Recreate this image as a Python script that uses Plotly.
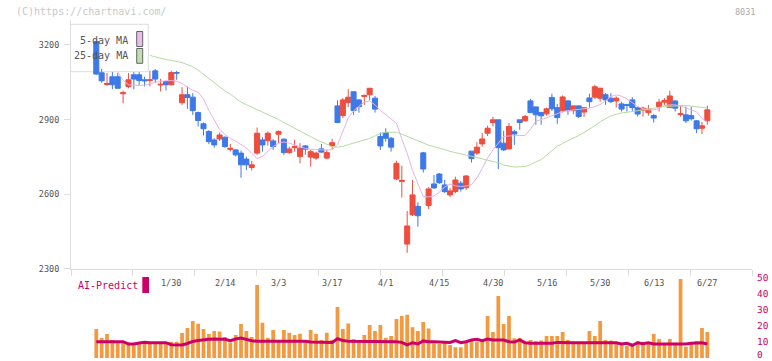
import plotly.graph_objects as go

# ---------------- data ----------------
dates = ["1/9","1/10","1/14","1/15","1/16","1/17","1/20","1/21","1/22","1/23","1/24","1/27","1/28","1/29","1/30","1/31",
         "2/3","2/4","2/5","2/6","2/7","2/10","2/12","2/13","2/14","2/17","2/18","2/19","2/20","2/21","2/25","2/26","2/27","2/28",
         "3/3","3/4","3/5","3/6","3/7","3/10","3/11","3/12","3/13","3/14","3/17","3/18","3/19","3/21","3/24","3/25","3/26","3/27","3/28","3/31",
         "4/1","4/2","4/3","4/4","4/7","4/8","4/9","4/10","4/11","4/14","4/15","4/16","4/17","4/18","4/21","4/22","4/23","4/24","4/25","4/28","4/30",
         "5/1","5/2","5/7","5/8","5/9","5/12","5/13","5/14","5/15","5/16","5/19","5/20","5/21","5/22","5/23","5/26","5/27","5/28","5/29","5/30",
         "6/2","6/3","6/4","6/5","6/6","6/9","6/10","6/11","6/12","6/13","6/16","6/17","6/18","6/19","6/20","6/23","6/24","6/25","6/26","6/27"]

open_ = [3214,3088,3041,3072,3072,3004,3033,3080,3080,3060,3057,3096,3039,3053,3040,3089,2968,3000,2990,2928,
         2883,2852,2818,2822,2829,2780,2778,2765,2741,2707,2765,2818,2815,2814,2841,2821,2767,2787,2751,2794,
         2749,2745,2782,2745,2794,2955,2916,2968,3012,2979,2993,3000,2986,2832,2848,2825,2661,2651,2399,2517,
         2551,2766,2554,2641,2681,2637,2597,2610,2644,2626,2773,2765,2802,2845,2888,2899,2805,2782,2851,2899,
         2895,2975,2951,2928,2923,2989,2948,2935,2975,2936,2955,2930,2987,2990,2986,3000,2986,2975,2963,2961,
         2979,2948,2938,2928,2916,2952,2970,2948,2975,2920,2919,2916,2895,2865,2895]
high = [3218,3104,3087,3091,3087,3017,3087,3091,3091,3072,3096,3103,3064,3055,3096,3096,3030,3033,3006,2932,
        2888,2857,2825,2848,2832,2802,2781,2775,2751,2734,2868,2829,2852,2821,2856,2825,2791,2818,2805,2798,
        2778,2771,2802,2778,2822,2977,2986,3022,3012,2982,3000,3026,2995,2848,2865,2830,2734,2714,2532,2657,
        2567,2770,2628,2677,2685,2657,2624,2670,2653,2677,2773,2809,2845,2875,2911,2899,2855,2886,2859,2899,
        2919,2983,2951,2932,2948,3004,2963,2997,2979,2957,2957,2950,3004,3040,3028,3006,3006,2993,2972,2962,
        2990,2950,2952,2959,2923,2983,2986,3016,2977,2956,2952,2952,2897,2890,2956]
low = [3080,3048,3036,3022,3023,2965,3026,3022,3040,3033,3034,3049,3013,3017,3037,3060,2959,2943,2919,2872,
       2836,2801,2787,2814,2787,2771,2751,2666,2697,2695,2758,2771,2795,2778,2805,2758,2762,2771,2724,2758,
       2711,2738,2765,2741,2782,2886,2906,2950,2919,2928,2959,2977,2928,2778,2811,2771,2657,2586,2364,2512,
       2469,2687,2540,2621,2641,2604,2588,2604,2610,2617,2727,2758,2791,2834,2872,2701,2774,2780,2798,2859,
       2892,2928,2879,2879,2916,2935,2883,2928,2919,2922,2906,2910,2948,2983,2972,2959,2966,2948,2932,2932,
       2935,2912,2912,2916,2888,2932,2959,2948,2932,2912,2886,2896,2845,2842,2879]
close = [3083,3056,3045,3040,3026,3008,3060,3063,3057,3056,3060,3063,3042,3040,3089,3087,3000,2989,2936,2896,
         2863,2811,2798,2838,2791,2784,2758,2718,2718,2718,2845,2798,2845,2791,2852,2767,2782,2791,2785,2781,
         2771,2765,2769,2767,2807,2888,2979,2990,2936,2952,2997,3026,2942,2794,2825,2789,2724,2655,2472,2597,
         2513,2701,2621,2625,2646,2610,2613,2657,2621,2673,2743,2789,2822,2865,2899,2787,2778,2872,2842,2888,
         2912,2928,2919,2915,2943,2943,2908,2991,2936,2955,2912,2948,2972,3032,3026,2979,2972,2986,2942,2957,
         2948,2922,2946,2942,2906,2970,2977,2995,2946,2924,2895,2903,2863,2875,2939]

ma5 = [None] * 4 + [
    3092,3058,3040,3037,3037,3039,3044,3051,3054,3056,3057,3054,3046,3030,3018,3010,2983,2936,2897,2861,
    2840,2824,2813,2799,2786,2764,2743,2752,2772,2791,2805,2810,2805,2797,2789,2784,2780,2778,2778,2778,
    2778,2798,2850,2907,2935,2954,2971,2975,2959,2937,2919,2903,2885,2822,2764,2695,2639,2590,2589,2592,
    2608,2629,2641,2633,2631,2632,2639,2665,2703,2746,2778,2806,2832,2834,2836,2836,2836,2861,2893,2899,
    2907,2915,2923,2932,2936,2939,2942,2944,2946,2952,2960,2975,2993,2999,2994,2983,2969,2953,2943,2939,
    2939,2945,2955,2959,2959,2955,2947,2938,2931,2905,2889]
ma25 = [None] * 10 + [
    3158,3152,3146,3141,3138,3134,3129,3121,3113,3099,3082,3066,3049,3031,3015,3002,2985,2970,2960,2950,
    2939,2930,2921,2912,2900,2888,2876,2865,2852,2842,2831,2820,2810,2800,2791,2789,2792,2799,2805,2811,
    2817,2824,2834,2844,2849,2850,2849,2841,2832,2822,2813,2804,2797,2791,2786,2779,2772,2766,2762,2757,
    2752,2748,2742,2736,2733,2727,2717,2712,2709,2710,2711,2719,2729,2739,2757,2774,2793,2804,2814,2825,
    2836,2848,2861,2875,2891,2904,2915,2921,2927,2929,2932,2935,2938,2942,2945,2949,2953,2954,2955,2956,
    2956,2954,2952,2949,2946]

volume = [18.0,12.4,14.9,11.2,10.1,10.1,8.7,8.7,9.5,10.6,
          9.5,9.5,9.5,9.5,10.1,10.1,15.5,18.6,23.0,21.3,
          18.0,14.9,16.8,16.4,13.0,9.7,14.3,21.1,16.8,13.0,
          45.3,21.9,12.4,17.4,10.1,17.4,15.7,14.3,15.1,11.2,
          17.4,14.9,11.2,15.7,11.2,31.7,18.0,21.5,11.8,10.1,
          14.3,20.5,16.8,20.5,12.6,13.7,24.2,26.1,26.9,19.1,
          16.7,22.4,18.4,9.1,8.7,9.5,8.1,6.6,6.6,9.7,
          10.6,10.1,11.8,26.1,16.1,38.5,21.1,26.1,12.2,12.4,
          9.5,11.2,10.4,10.8,13.7,13.7,13.7,16.1,11.2,10.1,
          9.1,9.5,16.8,13.7,23.0,11.2,10.8,9.1,8.1,7.5,
          7.5,10.4,8.7,9.9,14.9,11.8,8.7,11.8,9.5,49.1,
          7.0,9.5,10.6,18.6,16.1]
ai_predict = [10.1,10.1,10.1,10.1,10.1,10.1,8.7,8.7,9.3,9.7,
              9.5,9.5,9.5,9.5,8.3,8.1,8.1,9.0,10.3,10.8,
              11.4,11.6,11.8,11.8,11.6,10.7,11.8,12.4,11.6,10.7,
              10.4,10.4,10.4,10.1,10.1,10.4,10.4,10.4,10.4,10.4,
              9.9,9.9,9.9,9.9,9.7,12.0,10.8,10.4,10.4,10.4,
              10.4,10.4,10.4,10.4,10.1,10.1,10.1,9.7,8.1,9.5,
              8.7,10.6,10.1,10.1,10.1,10.1,9.7,10.8,9.5,10.1,
              11.2,11.6,10.8,11.8,11.2,11.2,11.2,10.1,9.9,11.2,
              9.5,9.1,9.1,9.1,9.1,9.1,9.7,9.5,9.5,9.5,
              9.5,9.5,9.1,9.5,9.5,9.5,9.5,9.5,8.7,9.1,
              7.9,9.5,8.9,9.5,8.7,8.7,8.7,8.7,8.7,8.3,
              8.7,9.1,9.5,9.5,8.7]

date_labels = ["1/30","2/14","3/3","3/17","4/1","4/15","4/30","5/16","5/30","6/13","6/27"]
price_ticks = [2300, 2600, 2900, 3200]
ai_ticks = [10, 20, 30, 40, 50]     # the 0 label is placed separately so it is not cut
ai_zero_label = "0"

# ---------------- styling / geometry ----------------
RED = "#EE4E3E"
BLUE = "#3E79E8"
PINK = "#E6B2E6"
GREEN = "#B3DBA0"
ORANGE = "#F39A40"
MAGENTA = "#CC0066"
AXIS = "#DDDDDD"
TXT = "#555555"
MONO = "DejaVu Sans Mono"

W, H = 772, 361
L, R, T, B = 71, 20, 20, 3
PW, PH = W - L - R, H - T - B
X0_PX, DX_PX = 96.3, 5.36          # pixel position of first candle, spacing


def px_x(px):
    return (px - L) / PW


def px_y(py):
    return (H - B - py) / PH


xs = list(range(len(dates)))
x_range = [(L - X0_PX) / DX_PX, (L + PW - X0_PX) / DX_PX]
tick_pos = [x_range[0] + k * (x_range[1] - x_range[0]) / 11 for k in range(12)]
price_bottom_py = 268.7
px_per_300 = 74.57
price_range = [2300, 2300 + (price_bottom_py - T) * 300 / px_per_300]

fig = go.Figure()
fig.add_trace(go.Candlestick(
    x=xs, open=open_, high=high, low=low, close=close,
    increasing=dict(line=dict(color=RED, width=1), fillcolor=RED),
    decreasing=dict(line=dict(color=BLUE, width=1), fillcolor=BLUE),
    whiskerwidth=0, showlegend=False, hoverinfo="skip", xaxis="x", yaxis="y"))
fig.add_trace(go.Scatter(x=xs, y=ma5, mode="lines", line=dict(color=PINK, width=1),
                         showlegend=False, hoverinfo="skip", xaxis="x", yaxis="y"))
fig.add_trace(go.Scatter(x=xs, y=ma25, mode="lines", line=dict(color=GREEN, width=1),
                         showlegend=False, hoverinfo="skip", xaxis="x", yaxis="y"))
fig.add_trace(go.Bar(x=xs, y=volume, marker=dict(color=ORANGE, line=dict(width=0)),
                     showlegend=False, hoverinfo="skip", xaxis="x2", yaxis="y2"))
fig.add_trace(go.Scatter(x=xs, y=ai_predict, mode="lines", line=dict(color=MAGENTA, width=3),
                         showlegend=False, hoverinfo="skip", xaxis="x2", yaxis="y2"))

annotations = []
for lab in date_labels:
    annotations.append(dict(x=dates.index(lab), y=px_y(282.5), xref="x", yref="paper",
                            text=lab, showarrow=False, xanchor="center", yanchor="middle",
                            font=dict(family=MONO, size=8.5, color=TXT)))
annotations += [
    dict(x=px_x(14), y=px_y(11.5), xref="paper", yref="paper", text="(C)https://chartnavi.com/",
         showarrow=False, xanchor="left", yanchor="middle", font=dict(family=MONO, size=10, color="#C8C8C8")),
    dict(x=px_x(757), y=px_y(11.5), xref="paper", yref="paper", text="8031",
         showarrow=False, xanchor="right", yanchor="middle", font=dict(family=MONO, size=8.5, color="#AAAAAA")),
    dict(x=px_x(129.5), y=px_y(40.7), xref="paper", yref="paper", text="5-day MA",
         showarrow=False, xanchor="right", yanchor="middle", font=dict(family=MONO, size=10, color=TXT)),
    dict(x=px_x(129.5), y=px_y(56), xref="paper", yref="paper", text="25-day MA",
         showarrow=False, xanchor="right", yanchor="middle", font=dict(family=MONO, size=10, color=TXT)),
    dict(x=px_x(75.5), y=px_y(285.5), xref="paper", yref="paper", text="AI-Predict",
         showarrow=False, xanchor="left", yanchor="middle", font=dict(family=MONO, size=10, color=MAGENTA)),
    dict(x=px_x(756), y=px_y(360.5), xref="paper", yref="paper", text=ai_zero_label,
         showarrow=False, xanchor="left", yanchor="bottom", borderpad=0,
         font=dict(family=MONO, size=9.5, color=MAGENTA)),
]

shapes = [
    dict(type="rect", xref="paper", yref="paper", layer="below",
         x0=px_x(70.5), x1=px_x(148.3), y0=px_y(71.7), y1=px_y(24.3),
         fillcolor="white", line=dict(color=AXIS, width=1)),
    dict(type="rect", xref="paper", yref="paper", layer="above",
         x0=px_x(136.7), x1=px_x(142.7), y0=px_y(46.5), y1=px_y(31.5),
         fillcolor="#EBBDEB", line=dict(color="#666666", width=1)),
    dict(type="rect", xref="paper", yref="paper", layer="above",
         x0=px_x(136.7), x1=px_x(142.7), y0=px_y(63.3), y1=px_y(48.5),
         fillcolor="#BEE0AE", line=dict(color="#666666", width=1)),
    dict(type="rect", xref="paper", yref="paper", layer="above",
         x0=px_x(142.3), x1=px_x(149), y0=px_y(293), y1=px_y(277),
         fillcolor=MAGENTA, line=dict(width=0)),
]

fig.update_layout(
    width=W, height=H, autosize=False,
    margin=dict(l=L, r=R, t=T, b=B, pad=0, autoexpand=False),
    paper_bgcolor="white", plot_bgcolor="rgba(0,0,0,0)",
    showlegend=False, boxgap=0.06, boxgroupgap=0.0, bargap=0.3,
    annotations=annotations, shapes=shapes,
    xaxis=dict(domain=[0, 1], range=x_range, anchor="y", showline=True, linecolor=AXIS, linewidth=1,
               ticks="outside", ticklen=6, tickcolor=AXIS, tickwidth=1, tickmode="array",
               tickvals=tick_pos, showticklabels=False, showgrid=False, zeroline=False,
               rangeslider=dict(visible=False), fixedrange=True, automargin=False),
    yaxis=dict(domain=[px_y(price_bottom_py), 1], range=price_range, anchor="x",
               showline=True, linecolor=AXIS, linewidth=1, ticks="outside", ticklen=6,
               tickcolor=AXIS, tickmode="array", tickvals=price_ticks,
               tickfont=dict(family=MONO, size=8.5, color=TXT), ticklabeloverflow="allow",
               ticklabelstandoff=3,
               showgrid=False, zeroline=False, fixedrange=True, automargin=False),
    xaxis2=dict(domain=[0, 1], range=x_range, anchor="y2", visible=False, fixedrange=True,
                automargin=False),
    yaxis2=dict(domain=[0, px_y(277.5)], range=[0, 50], anchor="x2", side="right",
                showline=False, ticks="", tickmode="array", tickvals=ai_ticks,
                tickfont=dict(family=MONO, size=9.5, color=MAGENTA), ticklabeloverflow="allow",
                ticklabelstandoff=4,
                showgrid=False, zeroline=False, fixedrange=True, automargin=False),
)

fig.write_html("out.html", config={"displayModeBar": False, "responsive": False},
               post_script="document.body.style.margin='0';document.body.style.overflow='hidden';")
